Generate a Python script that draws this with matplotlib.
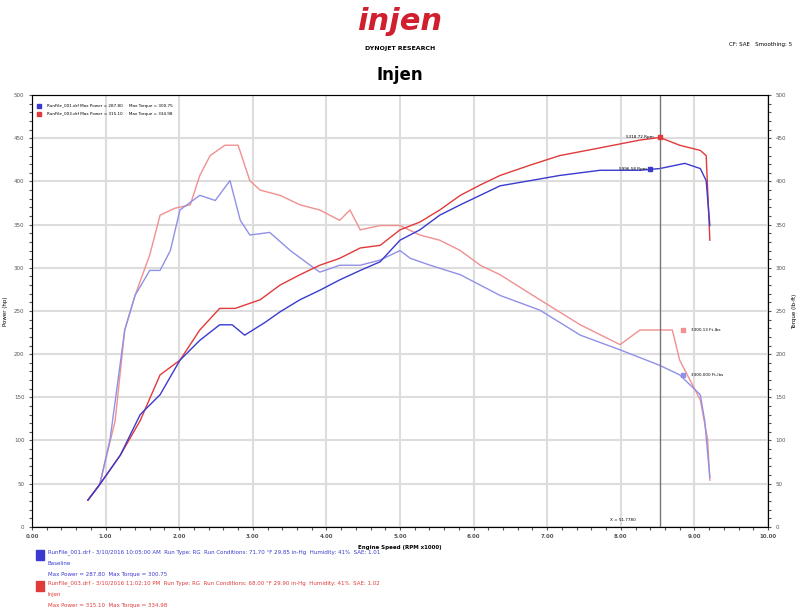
import matplotlib
matplotlib.use("Agg")
import matplotlib.pyplot as plt

# Engine speed (x1000 RPM) and values
red_tq_x = [0.76,0.92,1.13,1.26,1.40,1.60,1.74,1.94,2.15,2.28,2.42,2.62,2.80,2.96,3.10,3.37,3.64,3.91,4.18,4.32,4.46,4.73,5.00,5.27,5.54,5.82,6.09,6.36,6.90,7.45,7.99,8.26,8.53,8.70,8.80,9.08,9.18,9.21]
red_tq_y = [31,49,123,228,268,315,361,369,373,407,430,442,442,401,390,384,373,367,355,367,344,349,349,338,332,320,303,292,263,234,211,228,228,228,193,147,101,54]
blue_tq_x = [0.76,0.92,1.06,1.26,1.40,1.60,1.74,1.88,2.01,2.28,2.49,2.69,2.83,2.96,3.23,3.51,3.78,3.91,4.18,4.46,4.73,5.00,5.14,5.41,5.82,6.36,6.90,7.45,7.99,8.53,8.80,9.08,9.14,9.21]
blue_tq_y = [31,49,101,228,268,297,297,320,367,384,378,401,355,338,341,320,303,295,303,303,309,320,311,303,292,268,251,222,205,187,176,153,123,57]
red_hp_x = [0.76,0.92,1.20,1.47,1.74,2.01,2.28,2.55,2.76,3.10,3.37,3.64,3.91,4.18,4.46,4.73,5.00,5.27,5.54,5.82,6.09,6.36,6.77,7.17,7.72,8.26,8.53,8.80,9.08,9.16,9.21]
red_hp_y = [31,49,83,123,176,193,228,253,253,263,280,292,303,311,323,326,344,353,367,384,396,407,419,430,439,448,451,442,436,430,332]
blue_hp_x = [0.76,0.92,1.20,1.47,1.74,2.01,2.28,2.55,2.72,2.89,3.17,3.37,3.64,3.91,4.18,4.46,4.73,5.00,5.27,5.54,5.82,6.09,6.36,6.77,7.17,7.72,8.26,8.53,8.87,9.08,9.16,9.21]
blue_hp_y = [31,49,83,130,153,193,216,234,234,222,237,249,263,274,286,297,307,332,344,361,373,384,395,401,407,413,413,415,421,415,401,349]

RED = "#e03a3a"
BLUE = "#3a3ad0"

fig = plt.figure(figsize=(8, 6.14), dpi=100)
ax = fig.add_axes([0.04, 0.142, 0.92, 0.703])
ax.set_xlim(0, 10)
ax.set_ylim(0, 500)
ax.set_xticks(range(11))
ax.set_xticklabels([f"{v:.2f}" for v in range(11)], fontsize=4, fontweight="bold")
ax.set_yticks(range(0, 501, 50))
ax.set_yticklabels([str(v) for v in range(0, 501, 50)], fontsize=4)
ax.grid(color="#dddddd", lw=1.5)
for s in ax.spines.values():
    s.set_color("#777777")
ax.minorticks_on()
ax.tick_params(which="both", length=2, width=0.8, colors="#555555")

ax.plot(red_tq_x, red_tq_y, color="#f09090", lw=1)
ax.plot(blue_tq_x, blue_tq_y, color="#9090e8", lw=1)
ax.plot(red_hp_x, red_hp_y, color=RED, lw=1)
ax.plot(blue_hp_x, blue_hp_y, color=BLUE, lw=1)
ax.axvline(8.53, color="#777777", lw=1)

ax.plot([8.53], [451], "s", color=RED, ms=3)
ax.plot([8.4], [415], "s", color=BLUE, ms=3)
ax.text(8.45, 451, "5318.72 Rpm", fontsize=3, ha="right", va="center")
ax.text(8.35, 415, "5996.58 Rpm", fontsize=3, ha="right", va="center")
ax.plot([8.85], [228], "s", color="#f09090", ms=3)
ax.plot([8.85], [176], "s", color="#9090e8", ms=3)
ax.text(8.95, 228, "3300.13 Ft-lbs", fontsize=3, va="center")
ax.text(8.95, 176, "3300.000 Ft-lbs", fontsize=3, va="center")
ax.text(8.2, 5, "X = 51.7780", fontsize=3, ha="right", va="bottom")

ax.plot([0.1], [488], "s", color=BLUE, ms=3)
ax.plot([0.1], [478], "s", color=RED, ms=3)
ax.text(0.2, 488, "RunFile_001.drf Max Power = 287.80     Max Torque = 300.75", fontsize=3, va="center")
ax.text(0.2, 478, "RunFile_003.drf Max Power = 315.10     Max Torque = 334.98", fontsize=3, va="center")

ax.set_ylabel("Power (hp)", fontsize=4)
ax.set_xlabel("Engine Speed (RPM x1000)", fontsize=4, fontweight="bold")
ax2 = ax.twinx()
ax2.set_ylim(0, 500)
ax2.set_yticks(range(0, 501, 50))
ax2.set_yticklabels([str(v) for v in range(0, 501, 50)], fontsize=4)
ax2.minorticks_on()
ax2.tick_params(which="both", length=2, width=0.8, colors="#555555")
ax2.set_ylabel("Torque (lb-ft)", fontsize=4)

fig.text(0.5, 0.965, "injen", color="#d02030", fontsize=22, fontweight="bold", ha="center", va="center", style="italic")
fig.text(0.5, 0.918, "DYNOJET RESEARCH", fontsize=4.5, fontweight="bold", ha="center")
fig.text(0.5, 0.87, "Injen", fontsize=12, fontweight="bold", ha="center")
fig.text(0.99, 0.925, "CF: SAE   Smoothing: 5", fontsize=4, ha="right")

fig.patches.append(plt.Rectangle((0.045, 0.088), 0.01, 0.016, color=BLUE, transform=fig.transFigure))
fig.text(0.06, 0.1, "RunFile_001.drf - 3/10/2016 10:05:00 AM  Run Type: RG  Run Conditions: 71.70 °F 29.85 in-Hg  Humidity: 41%  SAE: 1.01", fontsize=4, color=BLUE, va="center")
fig.text(0.06, 0.082, "Baseline", fontsize=4, color=BLUE, va="center")
fig.text(0.06, 0.064, "Max Power = 287.80  Max Torque = 300.75", fontsize=4, color=BLUE, va="center")
fig.patches.append(plt.Rectangle((0.045, 0.038), 0.01, 0.016, color=RED, transform=fig.transFigure))
fig.text(0.06, 0.05, "RunFile_003.drf - 3/10/2016 11:02:10 PM  Run Type: RG  Run Conditions: 68.00 °F 29.90 in-Hg  Humidity: 41%  SAE: 1.02", fontsize=4, color=RED, va="center")
fig.text(0.06, 0.032, "Injen", fontsize=4, color=RED, va="center")
fig.text(0.06, 0.014, "Max Power = 315.10  Max Torque = 334.98", fontsize=4, color=RED, va="center")

fig.savefig("out.png", dpi=100)
